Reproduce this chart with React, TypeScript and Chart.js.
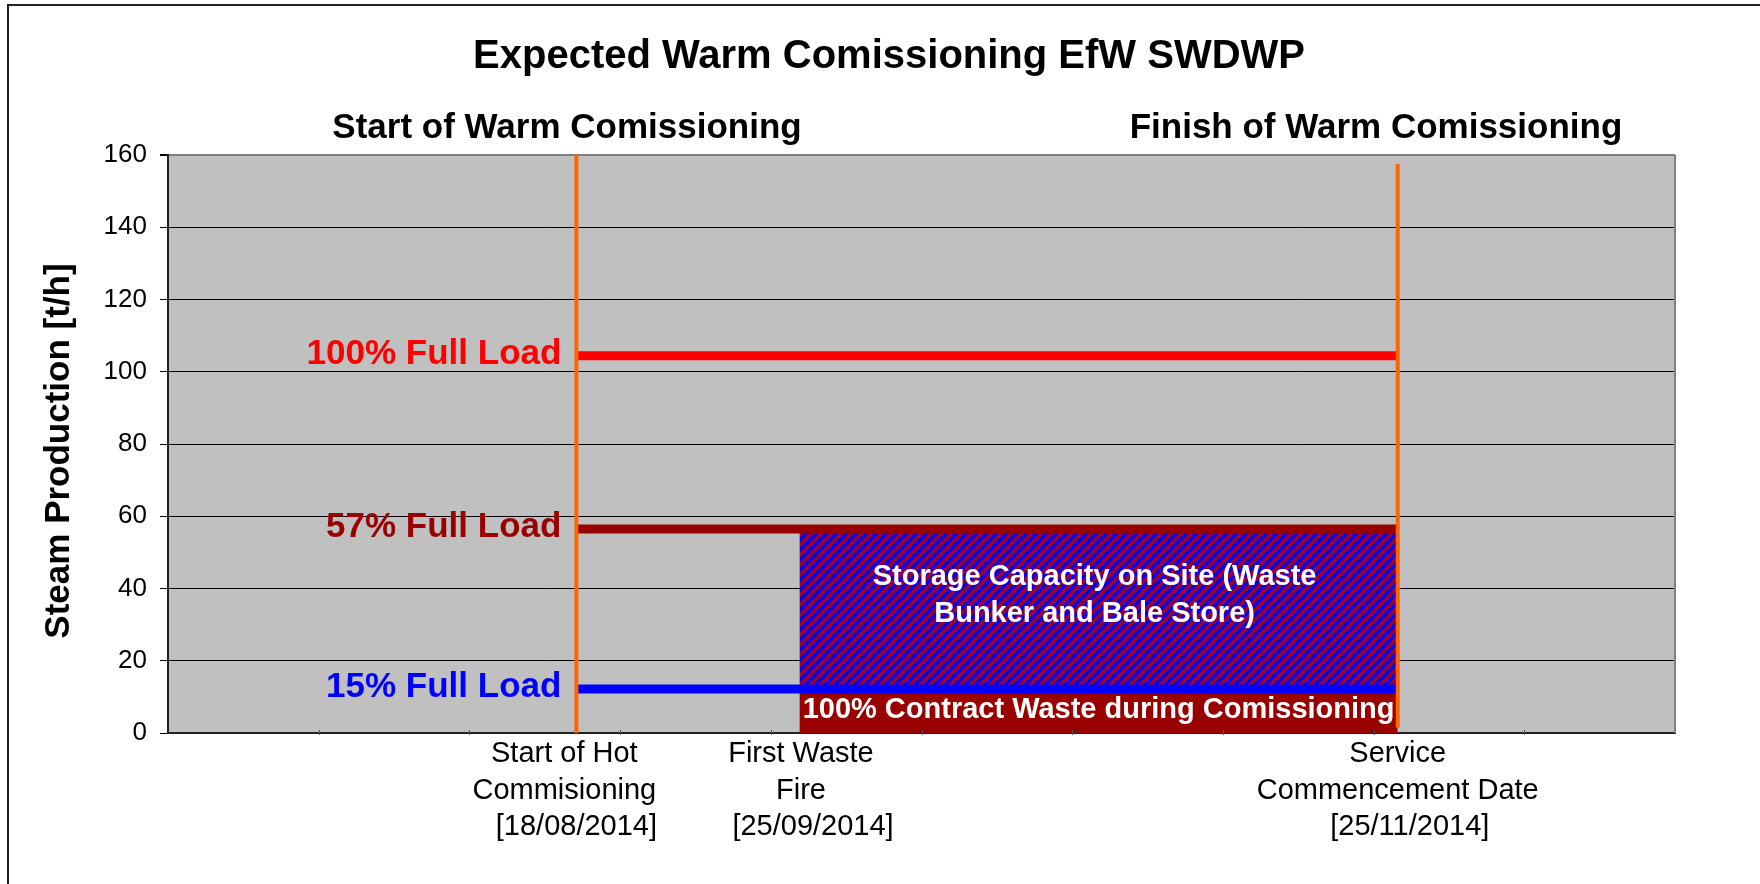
import React, { useEffect, useRef } from "react";
import { Chart, registerables } from "chart.js";

Chart.register(...registerables);

const FONT = "'Liberation Sans', Arial, Helvetica, sans-serif";
const W = 1760;
const H = 884;

// Schematic time positions (category units 0..10)
const EVENT_X = [2.71, 4.19, 8.16]; // start hot commissioning, first waste fire, service commencement
const EVENT_LABEL_X = [2.63, 4.2, 8.16];
const EVENT_LABELS = [
  ["Start of Hot", "Commisioning", "   [18/08/2014]"],
  ["First Waste", "Fire", "   [25/09/2014]"],
  ["Service", "Commencement Date", "   [25/11/2014]"],
];

const LOAD_VALUES = [104.4, 56.5, 12.2];
const LOAD_NAMES = ["100% Full Load", "57% Full Load", "15% Full Load"];
const LOAD_COLORS = ["#FF0000", "#990000", "#0000FF"];

const CONTRACT_TOP = 12.2;
const STORAGE_TOP = 56.5;
const STORAGE_TEXT = ["Storage Capacity on Site (Waste", "Bunker and Bale Store)"];
const CONTRACT_TEXT = "100% Contract Waste during Comissioning";

const Y_TICKS = [0, 20, 40, 60, 80, 100, 120, 140, 160];
const X_MINOR_TICKS = [1, 2, 3, 4, 5, 6, 7, 8, 9];

const TITLE = "Expected Warm Comissioning EfW SWDWP";
const PHASE_HEADERS = ["Start of Warm Comissioning", "Finish of Warm Comissioning"];
const Y_TITLE = "Steam Production [t/h]";

function makePattern(ctx: CanvasRenderingContext2D) {
  const p = 10;
  const t = document.createElement("canvas");
  t.width = p;
  t.height = p;
  const c = t.getContext("2d")!;
  c.fillStyle = "#990033";
  c.fillRect(0, 0, p, p);
  c.strokeStyle = "#0000FF";
  c.lineWidth = 3.5;
  c.beginPath();
  c.moveTo(-p / 2, p / 2);
  c.lineTo(p / 2, -p / 2);
  c.moveTo(0, p);
  c.lineTo(p, 0);
  c.moveTo(p / 2, p * 1.5);
  c.lineTo(p * 1.5, p / 2);
  c.stroke();
  return ctx.createPattern(t, "repeat")!;
}

const decorPlugin = {
  id: "decor",
  beforeDraw(chart: any) {
    const { ctx, chartArea } = chart;
    ctx.save();
    ctx.fillStyle = "#FFFFFF";
    ctx.fillRect(0, 0, W, H);
    ctx.fillStyle = "#C0C0C0";
    ctx.fillRect(chartArea.left, chartArea.top, chartArea.right - chartArea.left, chartArea.bottom - chartArea.top);
    ctx.strokeStyle = "#222";
    ctx.lineWidth = 2;
    ctx.beginPath();
    ctx.moveTo(8, H);
    ctx.lineTo(8, 5);
    ctx.lineTo(W, 5);
    ctx.stroke();
    ctx.restore();
  },
  afterDraw(chart: any) {
    const { ctx, chartArea, scales } = chart;
    const xs = scales.x;
    const ys = scales.y;
    ctx.save();
    // right border of plot
    ctx.strokeStyle = "#808080";
    ctx.lineWidth = 2;
    ctx.beginPath();
    ctx.moveTo(chartArea.right, chartArea.top);
    ctx.lineTo(chartArea.right, chartArea.bottom);
    ctx.stroke();
    // minor x tick marks
    ctx.strokeStyle = "#555";
    ctx.lineWidth = 1;
    X_MINOR_TICKS.forEach((v) => {
      const px = Math.round(xs.getPixelForValue(v)) + 0.5;
      ctx.beginPath();
      ctx.moveTo(px, chartArea.bottom - 3);
      ctx.lineTo(px, chartArea.bottom + 2);
      ctx.stroke();
    });

    ctx.textAlign = "center";
    ctx.textBaseline = "middle";
    ctx.fillStyle = "#000";
    ctx.font = `bold 40px ${FONT}`;
    ctx.fillText(TITLE, 889, 57);
    ctx.font = `bold 35px ${FONT}`;
    ctx.fillText(PHASE_HEADERS[0], 567, 128);
    ctx.fillText(PHASE_HEADERS[1], 1376, 128);

    ctx.save();
    ctx.translate(59, 451);
    ctx.rotate(-Math.PI / 2);
    ctx.fillText(Y_TITLE, 0, 0);
    ctx.restore();

    // load labels
    ctx.textAlign = "right";
    LOAD_VALUES.forEach((v, i) => {
      ctx.fillStyle = LOAD_COLORS[i];
      ctx.fillText(LOAD_NAMES[i], xs.getPixelForValue(EVENT_X[0]) - 15, ys.getPixelForValue(v) - 2);
    });

    // box texts
    ctx.textAlign = "center";
    ctx.fillStyle = "#FFFFFF";
    ctx.font = `bold 29px ${FONT}`;
    const cx = (xs.getPixelForValue(EVENT_X[1]) + xs.getPixelForValue(EVENT_X[2])) / 2;
    const midStorage = (ys.getPixelForValue(STORAGE_TOP) + ys.getPixelForValue(CONTRACT_TOP)) / 2;
    ctx.fillText(STORAGE_TEXT[0], cx - 4, midStorage - 32);
    ctx.fillText(STORAGE_TEXT[1], cx - 4, midStorage + 5);
    const midContract = (ys.getPixelForValue(CONTRACT_TOP) + ys.getPixelForValue(0)) / 2;
    ctx.fillText(CONTRACT_TEXT, cx, midContract - 1);
    ctx.restore();
  },
};

export default function App() {
  const ref = useRef<HTMLCanvasElement>(null);
  useEffect(() => {
    document.body.style.margin = "0";
    const canvas = ref.current!;
    const pattern = makePattern(canvas.getContext("2d")!);
    const seg = (y: number) => [
      { x: EVENT_X[0], y },
      { x: EVENT_X[2], y },
    ];
    const chart = new Chart(canvas, {
      type: "line",
      data: {
        datasets: [
          {
            label: "Contract waste",
            data: [
              { x: EVENT_X[1], y: CONTRACT_TOP },
              { x: EVENT_X[2], y: CONTRACT_TOP },
            ],
            fill: "origin",
            backgroundColor: "#990000",
            borderColor: "transparent",
            borderWidth: 0,
            pointRadius: 0,
            order: 10,
          },
          {
            label: "Storage capacity",
            data: [
              { x: EVENT_X[1], y: STORAGE_TOP },
              { x: EVENT_X[2], y: STORAGE_TOP },
            ],
            fill: 0,
            backgroundColor: pattern,
            borderColor: "transparent",
            borderWidth: 0,
            pointRadius: 0,
            order: 9,
          },
          ...LOAD_VALUES.map((v, i) => ({
            label: LOAD_NAMES[i],
            data: seg(v),
            fill: false,
            borderColor: LOAD_COLORS[i],
            borderWidth: 9,
            pointRadius: 0,
            order: 2,
          })),
          {
            label: "Start of warm commissioning",
            data: [
              { x: EVENT_X[0], y: 0 },
              { x: EVENT_X[0], y: 160 },
            ],
            fill: false,
            borderColor: "#FF6600",
            borderWidth: 4,
            pointRadius: 0,
            order: 0,
          },
          {
            label: "Finish of warm commissioning",
            data: [
              { x: EVENT_X[2], y: 1.5 },
              { x: EVENT_X[2], y: 157.5 },
            ],
            fill: false,
            borderColor: "#FF6600",
            borderWidth: 4,
            pointRadius: 0,
            order: 0,
          },
        ] as any,
      },
      options: {
        responsive: false,
        animation: false,
        devicePixelRatio: 1,
        events: [],
        layout: { padding: { left: 30, top: 155, right: 85, bottom: 0 } },
        plugins: { legend: { display: false }, tooltip: { enabled: false }, title: { display: false } },
        scales: {
          x: {
            type: "linear",
            min: 0,
            max: 10,
            afterBuildTicks: (s: any) => {
              s.ticks = EVENT_LABEL_X.map((v) => ({ value: v }));
            },
            afterFit: (s: any) => {
              s.height = H - 733;
            },
            ticks: {
              autoSkip: false,
              maxRotation: 0,
              minRotation: 0,
              padding: 3,
              color: "#000",
              font: { family: FONT, size: 29, lineHeight: 1.26 },
              callback: (_v: any, i: number) => EVENT_LABELS[i],
            },
            grid: { display: false, drawTicks: false },
            border: { display: true, color: "#222", width: 2 },
          },
          y: {
            type: "linear",
            min: 0,
            max: 160,
            afterBuildTicks: (s: any) => {
              s.ticks = Y_TICKS.map((v) => ({ value: v }));
            },
            afterFit: (s: any) => {
              s.width = 168 - 30;
            },
            ticks: { padding: 13, color: "#000", font: { family: FONT, size: 26 } },
            grid: {
              color: (c: any) => (c.tick && c.tick.value === 160 ? "#808080" : "#000"),
              lineWidth: (c: any) => (c.tick && c.tick.value === 160 ? 2 : 1),
              tickLength: 8,
              tickColor: "#000",
            },
            border: { color: "#222", width: 2 },
          },
        },
      } as any,
      plugins: [decorPlugin],
    });
    return () => chart.destroy();
  }, []);
  return <canvas ref={ref} width={W} height={H} style={{ display: "block", width: W, height: H }} />;
}
